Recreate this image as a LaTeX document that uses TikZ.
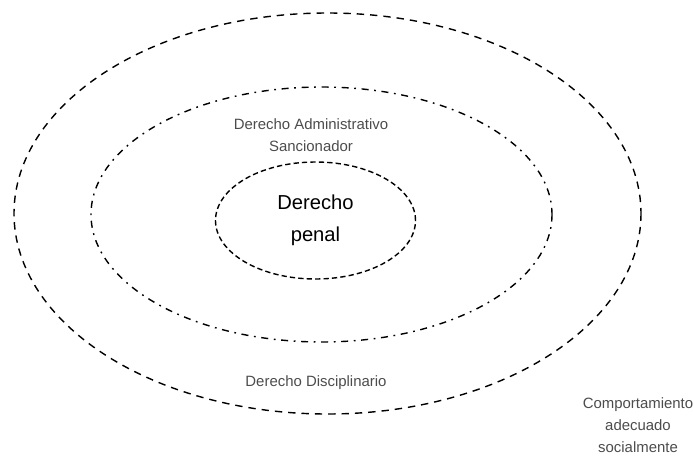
\documentclass[tikz,border=0pt]{standalone}
\usepackage{fontspec}
\setmainfont{Liberation Sans}
\usetikzlibrary{shapes.geometric}

\tikzset{
  outerline/.style={line width=0.8pt, dash pattern=on 4.2pt off 3.4pt},
  midline/.style={line width=0.8pt, dash pattern=on 4pt off 3.2pt on 1pt off 3.2pt},
  innerline/.style={line width=0.8pt, dash pattern=on 3pt off 1.8pt},
  smalllabel/.style={font=\fontsize{8.5}{12.5}\selectfont, text=black!70, align=center},
}

\begin{document}
\begin{tikzpicture}[x=0.02cm, y=-0.02cm]
\useasboundingbox (0,0) rectangle (694,457);
% ellipses
\draw[outerline] (327.5,213.5) ellipse (313.5 and 200.5);
\draw[midline] (321.5,214.5) ellipse (230.5 and 127.5);
\node[ellipse, draw, innerline, minimum width=200*0.02cm, minimum height=117*0.02cm,
  align=center, font=\fontsize{11.5}{18.5}\selectfont] (penal) at (315.5,220.5) {Derecho\\penal};
% labels
\node[smalllabel] (admin) at (311,135) {Derecho Administrativo\\Sancionador};
\node[smalllabel] (disc) at (316,383) {Derecho Disciplinario};
\node[smalllabel, font=\fontsize{8.5}{12.4}\selectfont] (social) at (638,425) {Comportamiento\\adecuado\\socialmente};
\end{tikzpicture}
\end{document}
